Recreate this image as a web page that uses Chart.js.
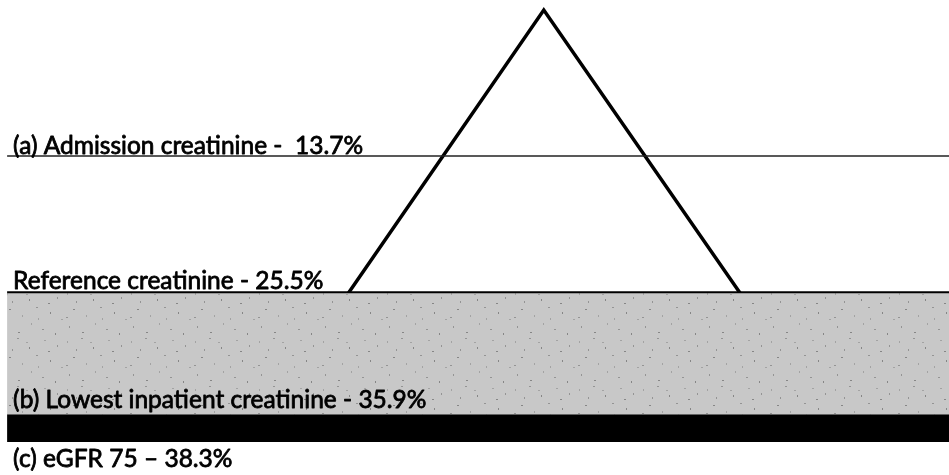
<!DOCTYPE html>
<html>
<head>
<meta charset="utf-8">
<script src="https://cdn.jsdelivr.net/npm/chart.js@4"></script>
<style>
  body { margin: 0; background: #fff; }
  #wrap { position: relative; width: 949px; height: 475px; }
</style>
</head>
<body>
<div id="wrap"><canvas id="myChart"></canvas></div>
<script>
// levels (percent of patients), top to bottom
const levelNames = ['(a) Admission creatinine', 'Reference creatinine', '(b) Lowest inpatient creatinine', '(c) eGFR 75'];
const levelSeps = ['- ', '-', '-', '\u2013'];
const levelValues = [13.7, 25.5, 35.9, 38.3];
// tip of the iceberg: base sits on the reference level
const peakValue = 1.15;

// label baseline offsets from each level line (px)
const labelOffsets = [-2, -4.5, -6, 25];

const ctx = document.getElementById('myChart');

// speckled grey texture for the band under the waterline
function speckle() {
  const c = document.createElement('canvas');
  c.width = 64; c.height = 48;
  const g = c.getContext('2d');
  g.fillStyle = '#c8c8c8';
  g.fillRect(0, 0, 64, 48);
  const dots = [[3,5],[17,2],[29,11],[44,4],[57,9],[9,21],[22,27],[36,19],[50,24],[61,31],[5,38],[18,44],[31,35],[42,41],[55,45],[26,6],[12,13],[48,15],[38,30],[2,29]];
  g.fillStyle = '#7e7e7e';
  dots.forEach(([x, y], i) => {
    g.globalAlpha = 0.5 + (i % 3) * 0.2;
    g.fillRect(x, y, 1 + (i % 2), 1 + ((i + 1) % 2));
  });
  return g.createPattern(c, 'repeat');
}

const xL = 0.75, xR = 100;

const labelPlugin = {
  id: 'levelLabels',
  afterDatasetsDraw(chart) {
    const c = chart.ctx;
    const xs = chart.scales.x, ys = chart.scales.y;
    c.save();
    c.fillStyle = '#000';
    c.strokeStyle = '#000';
    c.lineWidth = 0.8;
    c.lineJoin = 'round';
    c.font = '24.5px Lato';
    c.textBaseline = 'alphabetic';
    levelNames.forEach((name, i) => {
      const txt = name + ' ' + levelSeps[i] + ' ' + levelValues[i] + '%';
      const py = ys.getPixelForValue(levelValues[i]);
      const px = xs.getPixelForValue(xL) + 6;
      const by = py + labelOffsets[i];
      c.fillText(txt, px, by);
      c.strokeText(txt, px, by);
    });
    c.restore();
  }
};

new Chart(ctx, {
  type: 'line',
  data: {
    datasets: [
      {
        data: [{ x: xL, y: levelValues[2] }, { x: xR, y: levelValues[2] }],
        borderWidth: 0,
        fill: { value: levelValues[1] },
        backgroundColor: speckle(),
      },
      {
        data: [{ x: xL, y: levelValues[3] }, { x: xR, y: levelValues[3] }],
        borderWidth: 0,
        fill: { value: levelValues[2] },
        backgroundColor: '#000',
      },
      {
        data: [{ x: xL, y: levelValues[0] }, { x: xR, y: levelValues[0] }],
        borderWidth: 1.6,
        borderColor: '#222',
      },
      {
        data: [{ x: 36.7, y: levelValues[1] }, { x: 57.3, y: peakValue }, { x: 78.0, y: levelValues[1] }],
        borderWidth: 3.5,
        borderColor: '#000',
        borderJoinStyle: 'miter',
      },
      {
        data: [{ x: xL, y: levelValues[1] }, { x: xR, y: levelValues[1] }],
        borderWidth: 4,
        borderColor: '#000',
      },
    ],
  },
  options: {
    responsive: true,
    maintainAspectRatio: false,
    animation: false,
    layout: { padding: 0 },
    elements: { point: { radius: 0 }, line: { tension: 0 } },
    plugins: { legend: { display: false }, tooltip: { enabled: false } },
    scales: {
      x: { type: 'linear', display: false, min: 0, max: 100 },
      y: { type: 'linear', display: false, reverse: true, min: 0.29, max: 41.13 },
    },
  },
  plugins: [labelPlugin],
});
</script>
</body>
</html>
